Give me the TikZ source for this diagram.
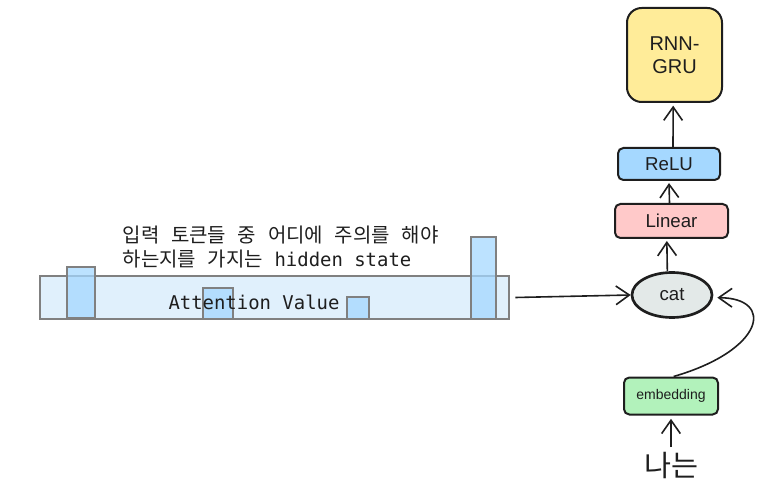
\documentclass[tikz,border=0pt]{standalone}
\usepackage{fontspec}
\setmainfont{Liberation Sans}
\setmonofont{DejaVu Sans Mono}
\newfontfamily\kr[WordSpace=2.6]{Noto Sans CJK KR}
\usetikzlibrary{arrows.meta,shapes.geometric}
\definecolor{ink}{HTML}{1E1E1E}
\definecolor{gruyellow}{HTML}{FFEC99}
\definecolor{relublue}{HTML}{A5D8FF}
\definecolor{linpink}{HTML}{FFC9C9}
\definecolor{catgray}{HTML}{E3E9E8}
\definecolor{embgreen}{HTML}{B2F2BB}
\definecolor{barblue}{HTML}{DBEDFC}
\tikzset{
  layer/.style={draw=ink, line width=1.5pt, rounded corners=4pt, text=ink},
  arr/.style={-{Straight Barb[length=10pt,width=14pt]}, draw=ink, line width=1.2pt},
  tok/.style={draw=gray, line width=1pt, fill=relublue, fill opacity=0.75}
}
\begin{document}
\begin{tikzpicture}[x=0.75pt, y=-0.75pt]
    \useasboundingbox (0,0) rectangle (775,499);

    % attention value bar
    \draw[draw=gray, line width=1pt, fill=barblue, fill opacity=0.85] (40,276) rectangle (509,319);
    \draw[tok] (67,267) rectangle (95,318);
    \draw[tok] (203,288) rectangle (233,319);
    \draw[tok] (347,297) rectangle (369,319);
    \draw[tok] (471,237) rectangle (496,319);
    \node[inner sep=0pt, minimum width=469*0.75pt, minimum height=43*0.75pt] (attn) at (274.5,297.5) {};
    \node[font=\ttfamily\fontsize{14.2}{16}\selectfont, text=ink] (attnlbl) at (254,302) {Attention Value};
    \node[anchor=west, align=left, text=ink, font=\fontsize{14.2}{18}\selectfont] (desc) at (118,247)
        {{\kr\fontsize{15}{18}\selectfont 입력 토큰들 중 어디에 주의를 해야}\\{\kr\fontsize{15}{18}\selectfont 하는지를 가지는}{\ttfamily\ hidden state}};

    % layers
    \node[layer, fill=gruyellow, minimum width=95*0.75pt, minimum height=94*0.75pt, rounded corners=11pt,
          align=center, font=\fontsize{15}{17}\selectfont] (rnn) at (674.5,55) {RNN-\\GRU};
    \node[layer, fill=relublue, minimum width=102*0.75pt, minimum height=32*0.75pt,
          font=\fontsize{14}{16}\selectfont] (relu) at (669,164) {ReLU};
    \node[layer, fill=linpink, minimum width=113*0.75pt, minimum height=34*0.75pt,
          font=\fontsize{14}{16}\selectfont] (linear) at (671.5,221) {Linear};
    \node[ellipse, draw=ink, line width=2pt, fill=catgray, text=ink, minimum width=80*0.75pt,
          minimum height=45*0.75pt, inner sep=0pt, font=\fontsize{14}{16}\selectfont] (cat) at (672,295) {cat};
    \node[layer, fill=embgreen, minimum width=94*0.75pt, minimum height=37*0.75pt,
          font=\fontsize{10.5}{12}\selectfont] (embed) at (671,396) {embedding};
    \node[text=ink, font=\kr\fontsize{22}{24}\selectfont] (word) at (671,465) {나는};

    % arrows
    \draw[arr] (word.north) -- ([yshift=-2.5pt]embed.south);
    \draw[arr] ([xshift=2pt]embed.north) .. controls (765,350) and (775,298) .. ([xshift=3pt,yshift=-2pt]cat.east);
    \draw[arr] ([xshift=4.5pt]attn.east) -- (cat.west);
    \draw[arr] ([xshift=-3.5pt]cat.north) -- ([xshift=-3.5pt,yshift=-1.5pt]linear.south);
    \draw[arr] ([xshift=-1.5pt]linear.north) -- ([yshift=-1.5pt]relu.south);
    \draw[arr] ([xshift=3pt]relu.north) -- ([xshift=-1pt,yshift=-2pt]rnn.south);
\end{tikzpicture}
\end{document}
